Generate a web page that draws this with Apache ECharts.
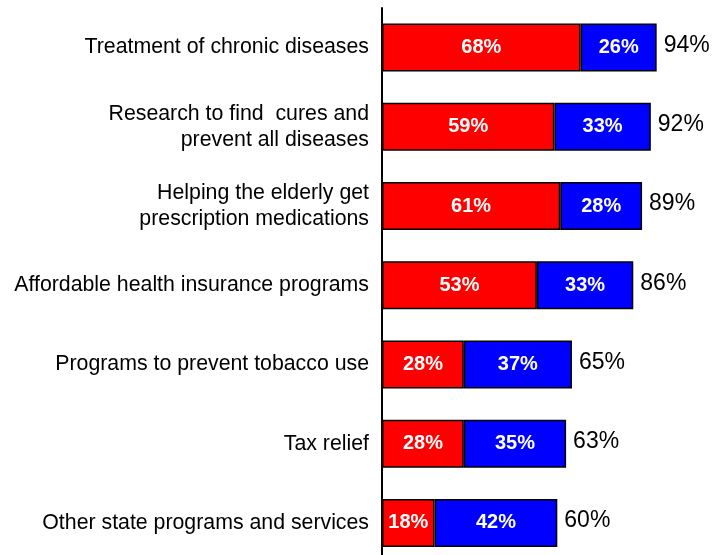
<!DOCTYPE html>
<html>
<head>
<meta charset="utf-8">
<script src="https://cdn.jsdelivr.net/npm/echarts@6/dist/echarts.min.js"></script>
<style>
  html, body { margin: 0; padding: 0; background: #fff; }
  #chart { width: 726px; height: 555px; }
</style>
</head>
<body>
<div id="chart"></div>
<script>
// Survey items, top to bottom
const categories = [
  'Treatment of chronic diseases',
  'Research to find  cures and\nprevent all diseases',
  'Helping the elderly get\nprescription medications',
  'Affordable health insurance programs',
  'Programs to prevent tobacco use',
  'Tax relief',
  'Other state programs and services'
];
// Red segment (first share) and blue segment (second share), in percent
const redShare = [68, 59, 61, 53, 28, 28, 18];
const blueShare = [26, 33, 28, 33, 37, 35, 42];
// Combined share printed at the end of each bar
const totalShare = redShare.map((v, i) => v + blueShare[i]);

const chart = echarts.init(document.getElementById('chart'));

const insideLabel = {
  show: true,
  position: 'inside',
  color: '#fff',
  fontFamily: 'Liberation Sans, Arial, sans-serif',
  fontWeight: 'bold',
  fontSize: 20,
  formatter: p => p.value + '%'
};

chart.setOption({
  animation: false,
  grid: {
    left: 382, top: 8, width: 292.2, height: 554.5,
    outerBoundsMode: 'none', containLabel: false
  },
  xAxis: {
    type: 'value', min: 0, max: 100,
    show: false
  },
  yAxis: {
    type: 'category',
    inverse: true,
    data: categories,
    axisLine: { show: true, lineStyle: { color: '#000', width: 2 } },
    axisTick: { show: false },
    axisLabel: {
      color: '#000',
      fontFamily: 'Liberation Sans, Arial, sans-serif',
      fontSize: 21.3,
      lineHeight: 26,
      margin: 13,
      align: 'right'
    }
  },
  series: [
    {
      type: 'bar', stack: 'share', data: redShare, barWidth: 48,
      itemStyle: { color: '#FF0000', borderColor: '#000', borderWidth: 1.5 },
      label: insideLabel
    },
    {
      type: 'bar', stack: 'share', data: blueShare, barWidth: 48,
      itemStyle: { color: '#0000FF', borderColor: '#000', borderWidth: 1.5 },
      label: insideLabel
    },
    {
      type: 'scatter',
      data: totalShare.map((v, i) => [v, i]),
      symbolSize: 0,
      silent: true,
      itemStyle: { opacity: 1 },
      label: {
        show: true, position: 'right', distance: 7,
        offset: [0, -2],
        color: '#000',
        fontFamily: 'Liberation Sans, Arial, sans-serif',
        fontSize: 23,
        formatter: p => p.value[0] + '%'
      }
    }
  ]
});
</script>
</body>
</html>
